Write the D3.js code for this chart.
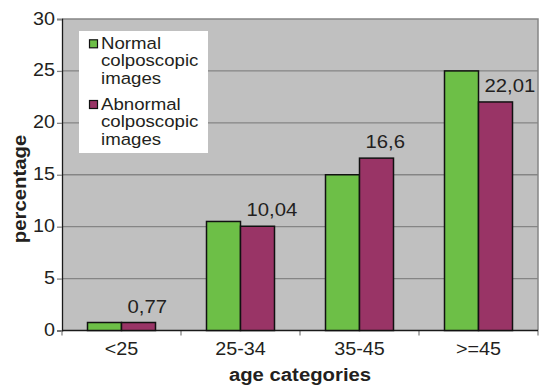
<!DOCTYPE html>
<html>
<head>
<meta charset="utf-8">
<script src="https://cdn.jsdelivr.net/npm/d3@7"></script>
<style>
  html, body { margin: 0; padding: 0; background: #ffffff; }
  svg { display: block; }
  text { font-family: "Liberation Sans", Arial, sans-serif; fill: #231f20; }
</style>
</head>
<body>
<svg id="chart" width="539" height="389"></svg>
<script>
// Age groups and the share of women (%) in each group
const categories = ["<25", "25-34", "35-45", ">=45"];
const seriesNames = ["Normal colposcopic images", "Abnormal colposcopic images"];
const normalValues = [0.77, 10.5, 15, 25];
const abnormalValues = [0.77, 10.04, 16.6, 22.01];
const abnormalLabels = ["0,77", "10,04", "16,6", "22,01"];
const yTicks = [0, 5, 10, 15, 20, 25, 30];
const legendLines = [["Normal", "colposcopic", "images"], ["Abnormal", "colposcopic", "images"]];
const colors = ["#6dbf47", "#993466"];

const svg = d3.select("#chart");
const plot = { left: 62, right: 538, top: 19, bottom: 330.5 };

const x = d3.scaleBand().domain(categories).range([plot.left, plot.right]).padding(0);
const x1 = d3.scaleBand().domain([0, 1]).range([0, x.bandwidth()]).paddingInner(0).paddingOuter(0.75);
const y = d3.scaleLinear().domain([0, 30]).range([plot.bottom, plot.top]);

// text helper: slightly wide lettering
function label(g, px, py, str, size, anchor, bold, rotate, sx = 1.07) {
  const t = g.append("text")
    .attr("transform", `translate(${px},${py})` + (rotate ? ` rotate(${rotate})` : "") + ` scale(${sx},1)`)
    .attr("text-anchor", anchor)
    .style("font-size", size + "px")
    .text(str);
  if (bold) t.style("font-weight", "bold");
  return t;
}

// plot background
svg.append("rect")
  .attr("x", plot.left).attr("y", plot.top)
  .attr("width", plot.right - plot.left).attr("height", plot.bottom - plot.top)
  .attr("fill", "#c0c0c0");

// horizontal gridlines
svg.append("g").selectAll("line")
  .data(yTicks.filter(d => d > 0 && d < 30))
  .join("line")
  .attr("x1", plot.left).attr("x2", plot.right)
  .attr("y1", d => y(d)).attr("y2", d => y(d))
  .attr("stroke", "#858585").attr("stroke-width", 1.3);

// top and right frame
svg.append("path")
  .attr("d", `M${plot.left},${y(30)}H${plot.right}V${plot.bottom}`)
  .attr("fill", "none").attr("stroke", "#858585").attr("stroke-width", 1.5);

// y axis
const yAxis = d3.axisLeft(y).tickValues(yTicks).tickSize(5).tickFormat("");
const gy = svg.append("g").attr("transform", `translate(${plot.left},0)`).call(yAxis);
gy.select(".domain").attr("stroke", "#1a1a1a").attr("stroke-width", 1.3);
gy.selectAll(".tick line").attr("stroke", "#858585").attr("stroke-width", 1.3);
yTicks.forEach(v => label(svg, 55, y(v) + 5.5, String(v), 18.5, "end"));

// x axis with ticks at category boundaries
const bounds = categories.map(c => x(c)).concat([plot.right]);
svg.append("g").selectAll("line").data(bounds).join("line")
  .attr("x1", d => d).attr("x2", d => d)
  .attr("y1", plot.bottom).attr("y2", plot.bottom + 5)
  .attr("stroke", "#858585").attr("stroke-width", 1.3);
svg.append("line")
  .attr("x1", plot.left).attr("x2", plot.right)
  .attr("y1", plot.bottom).attr("y2", plot.bottom)
  .attr("stroke", "#1a1a1a").attr("stroke-width", 1.5);
categories.forEach(c => label(svg, x(c) + x.bandwidth() / 2, 355, c, 18.5, "middle"));

// bars
const series = [normalValues, abnormalValues];
const groups = svg.append("g").selectAll("g")
  .data(categories)
  .join("g")
  .attr("transform", d => `translate(${x(d)},0)`);
groups.selectAll("rect")
  .data((c, i) => series.map((s, k) => ({ k, v: s[i] })))
  .join("rect")
  .attr("x", d => x1(d.k))
  .attr("width", x1.bandwidth())
  .attr("y", d => y(d.v))
  .attr("height", d => y(0) - y(d.v))
  .attr("fill", d => colors[d.k])
  .attr("stroke", "#111")
  .attr("stroke-width", 1.5);

// value labels for the abnormal series
categories.forEach((c, i) => {
  label(svg, x(c) + x1(1) + 6, y(abnormalValues[i]) - 10, abnormalLabels[i], 19, "start");
});

// legend
const lg = svg.append("g");
lg.append("rect").attr("x", 79).attr("y", 31).attr("width", 129).attr("height", 122).attr("fill", "#ffffff");
const baselines = [[48.8, 66.3, 83.8], [109.5, 127, 144.5]];
legendLines.forEach((lines, k) => {
  lg.append("rect")
    .attr("x", 89.5).attr("y", baselines[k][0] - 9)
    .attr("width", 8).attr("height", 8)
    .attr("fill", colors[k]).attr("stroke", "#111").attr("stroke-width", 1.2);
  lines.forEach((t, j) => label(lg, 101, baselines[k][j], t, 16.8, "start", false, 0, 1.11));
});

// axis titles
label(svg, 300, 381, "age categories", 19, "middle", true);
label(svg, 26, 189, "percentage", 19, "middle", true, -90);
</script>
</body>
</html>
